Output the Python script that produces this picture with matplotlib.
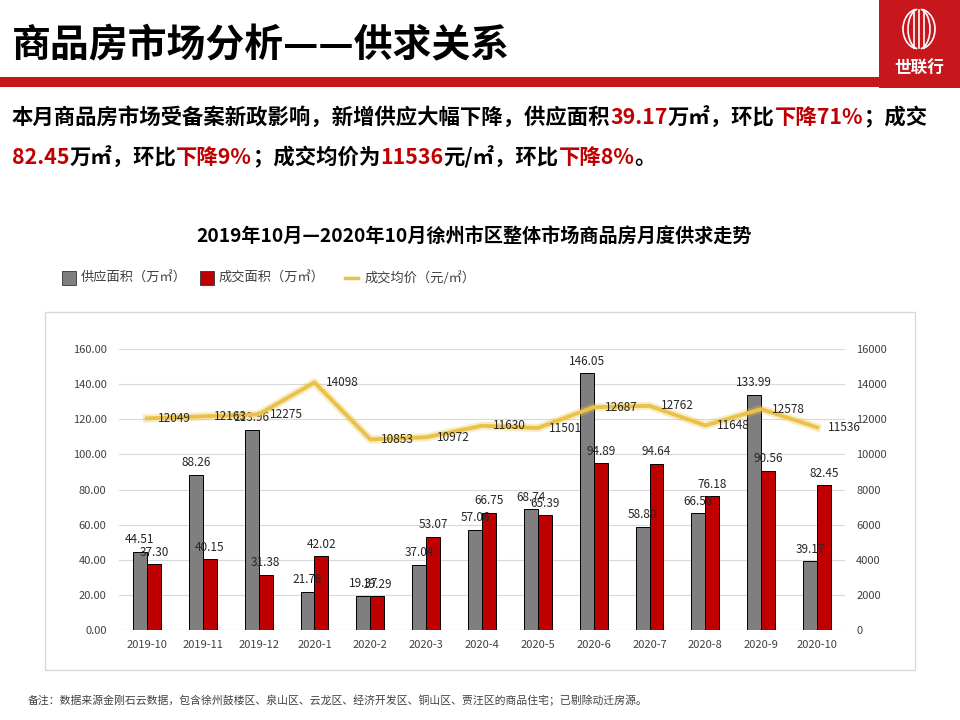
import matplotlib
matplotlib.use("Agg")
import matplotlib.pyplot as plt
from matplotlib.patches import Rectangle, Arc
from matplotlib.font_manager import FontProperties, findfont, get_font
import numpy as np

plt.rcParams['font.family'] = ['Noto Sans CJK SC', 'DejaVu Sans']

# 数据
months = ["2019-10", "2019-11", "2019-12", "2020-1", "2020-2", "2020-3", "2020-4",
          "2020-5", "2020-6", "2020-7", "2020-8", "2020-9", "2020-10"]
supply = [44.51, 88.26, 113.96, 21.78, 19.37, 37.04, 57.06, 68.74, 146.05, 58.80, 66.58, 133.99, 39.17]
deal = [37.30, 40.15, 31.38, 42.02, 19.29, 53.07, 66.75, 65.39, 94.89, 94.64, 76.18, 90.56, 82.45]
price = [12049, 12163, 12275, 14098, 10853, 10972, 11630, 11501, 12687, 12762, 11648, 12578, 11536]

legend_labels = ["供应面积（万㎡）", "成交面积（万㎡）", "成交均价（元/㎡）"]
page_title = "商品房市场分析——供求关系"
chart_title = "2019年10月—2020年10月徐州市区整体市场商品房月度供求走势"
footnote = "备注：数据来源金刚石云数据，包含徐州鼓楼区、泉山区、云龙区、经济开发区、铜山区、贾汪区的商品住宅；已剔除动迁房源。"

RED = "#C00000"
GRAY = "#7F7F7F"
BAR_RED = "#C00000"
GOLD = "#EBC247"
TXT = "#404040"

fig = plt.figure(figsize=(9.6, 7.2), dpi=100)

# 背景层，像素坐标
bg = fig.add_axes([0, 0, 1, 1])
bg.set_xlim(0, 960)
bg.set_ylim(720, 0)
bg.axis("off")

# 标题与红色横条
bg.text(12, 46, page_title, fontsize=28, fontweight="bold", color="black", va="center", ha="left")
bg.add_patch(Rectangle((0, 77), 880, 10, color="#C8161D", lw=0))

# 右上角标志
bg.add_patch(Rectangle((879, 0), 81, 88, color="#C8161D", lw=0))
for dx in (-5, 0, 5):
    bg.plot([919 + dx, 919 + dx], [10, 48], color="white", lw=1.2)
bg.add_patch(Arc((919, 29), 22, 40, theta1=95, theta2=265, color="white", lw=1.2))
bg.add_patch(Arc((919, 29), 22, 40, theta1=-85, theta2=85, color="white", lw=1.2))
bg.add_patch(Arc((919, 29), 32, 40, theta1=100, theta2=260, color="white", lw=1.2))
bg.add_patch(Arc((919, 29), 32, 40, theta1=-80, theta2=80, color="white", lw=1.2))
bg.text(919, 69, "世联行", fontsize=12, color="white", ha="center", va="center", fontweight="bold")


def advance(s, size):
    # 按字形步进宽度计算像素宽
    font = get_font(findfont(FontProperties(family="Noto Sans CJK SC", weight="bold")))
    font.set_size(size, 100)
    return sum(font.load_char(ord(c)).linearHoriAdvance / 65536 for c in s)


def rich_line(x, y, parts, size):
    for s, c in parts:
        bg.text(x, y, s, color=c, fontsize=size, fontweight="bold", va="baseline", ha="left")
        x += advance(s, size)


K = "black"
rich_line(12, 124, [("本月商品房市场受备案新政影响，新增供应大幅下降，供应面积", K), ("39.17", RED),
                    ("万㎡，环比", K), ("下降71%", RED), ("；成交", K)], 15.4)
rich_line(12, 164, [("82.45", RED), ("万㎡，环比", K), ("下降9%", RED), ("；成交均价为", K),
                    ("11536", RED), ("元/㎡，环比", K), ("下降8%", RED), ("。", K)], 15.4)

# 图表标题与图例
bg.text(474, 237, chart_title, fontsize=13.8, fontweight="bold", ha="center", va="center", color="black")
bg.add_patch(Rectangle((62, 271), 14, 14, facecolor=GRAY, edgecolor="#333333", lw=0.6))
bg.text(81, 278, legend_labels[0], fontsize=9.5, va="center", ha="left", color=TXT)
bg.add_patch(Rectangle((200, 271), 14, 14, facecolor=BAR_RED, edgecolor="#333333", lw=0.6))
bg.text(219, 278, legend_labels[1], fontsize=9.5, va="center", ha="left", color=TXT)
bg.plot([345, 358], [278, 278], color=GOLD, lw=2.5)
bg.text(365, 278, legend_labels[2], fontsize=9.5, va="center", ha="left", color=TXT)

# 图表外框
bg.add_patch(Rectangle((45, 312), 870, 358, facecolor="none", edgecolor="#D9D9D9", lw=1))

# 备注
bg.text(28, 700, footnote, fontsize=7.8, color=TXT, va="center", ha="left")

# 主图
ax = fig.add_axes([119 / 960, 1 - 630 / 720, (845 - 119) / 960, (630 - 349) / 720])
ax.set_zorder(2)
x = np.arange(len(months))
w = 0.25
ax.bar(x - w / 2, supply, w, color=GRAY, edgecolor="black", lw=0.7, zorder=3)
ax.bar(x + w / 2, deal, w, color=BAR_RED, edgecolor="black", lw=0.7, zorder=3)
ax.set_ylim(0, 160)
ax.set_xlim(-0.5, len(months) - 0.5)
ax.set_yticks(np.arange(0, 161, 20))
ax.set_yticklabels([f"{v:.2f}" for v in np.arange(0, 161, 20)])
ax.set_xticks(x)
ax.set_xticklabels(months)
ax.tick_params(axis="both", length=0, labelsize=8, colors=TXT)
ax.tick_params(axis="y", pad=9)
ax.tick_params(axis="x", pad=7)
ax.grid(axis="y", color="#D9D9D9", lw=0.8, zorder=0)
for s in ax.spines.values():
    s.set_visible(False)
ax.axhline(0, color="#BFBFBF", lw=0.8, zorder=1)

for xi, v in zip(x, supply):
    ax.annotate(f"{v:.2f}", (xi - w / 2, v), xytext=(0, 4), textcoords="offset points",
                ha="center", va="bottom", fontsize=8.5, color="#262626", zorder=6)
for xi, v in zip(x, deal):
    ax.annotate(f"{v:.2f}", (xi + w / 2, v), xytext=(0, 4), textcoords="offset points",
                ha="center", va="bottom", fontsize=8.5, color="#262626", zorder=6)

ax2 = ax.twinx()
ax2.set_ylim(0, 16000)
ax2.set_yticks(np.arange(0, 16001, 2000))
ax2.tick_params(axis="y", length=0, labelsize=8, colors=TXT, pad=8)
for s in ax2.spines.values():
    s.set_visible(False)
ax2.plot(x, price, color=GOLD, lw=6, alpha=0.3, solid_joinstyle="round", zorder=4)
ax2.plot(x, price, color=GOLD, lw=2.8, solid_joinstyle="round", zorder=5)
for xi, v in zip(x, price):
    ax2.annotate(str(v), (xi, v), xytext=(8, 0), textcoords="offset points",
                 ha="left", va="center", fontsize=8.5, color="#262626", zorder=6)

fig.savefig("out.png", dpi=100)
